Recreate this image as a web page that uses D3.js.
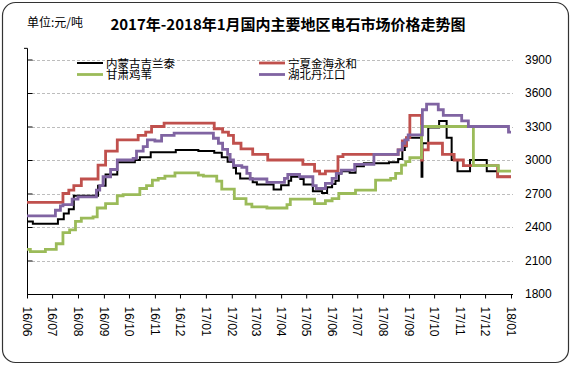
<!DOCTYPE html>
<html><head><meta charset="utf-8">
<script src="https://cdn.jsdelivr.net/npm/d3@7"></script>
<style>body{margin:0;background:#fff}svg{display:block}</style>
</head><body>
<script>
const title = "2017年-2018年1月国内主要地区电石市场价格走势图";
const unitLabel = "单位:元/吨";
const seriesNames = ["内蒙古吉兰泰", "宁夏金海永和", "甘肃鸡苇", "湖北丹江口"];
const seriesColors = ["#000000", "#C0504D", "#9BBB59", "#8064A2"];
const xTickLabels = ["16/06","16/07","16/08","16/09","16/10","16/11","16/12","17/01","17/02","17/03","17/04","17/05","17/06","17/07","17/08","17/09","17/10","17/11","17/12","18/01"];
const xTickDates = ["2016-06-01","2016-07-01","2016-08-01","2016-09-01","2016-10-01","2016-11-01","2016-12-01","2017-01-01","2017-02-01","2017-03-01","2017-04-01","2017-05-01","2017-06-01","2017-07-01","2017-08-01","2017-09-01","2017-10-01","2017-11-01","2017-12-01","2018-01-01"];
const yTickValues = [1800, 2100, 2400, 2700, 3000, 3300, 3600, 3900];

// step data: [date the price starts, price]
const neimeng = [
["2016-06-01",2450],["2016-06-08",2430],["2016-07-08",2470],["2016-07-15",2520],["2016-07-21",2560],["2016-07-27",2680],
["2016-08-25",2770],["2016-09-03",2870],["2016-09-17",2980],["2016-10-08",3000],["2016-10-14",3025],["2016-10-27",3070],
["2016-11-26",3090],["2016-12-23",3080],["2017-01-11",3065],["2017-01-20",3025],["2017-01-27",2985],["2017-02-03",2930],
["2017-02-06",2880],["2017-02-11",2835],["2017-02-26",2800],["2017-03-03",2780],["2017-03-23",2735],["2017-04-01",2775],
["2017-04-10",2815],["2017-04-13",2850],["2017-04-24",2830],["2017-04-28",2780],["2017-05-09",2720],["2017-05-20",2705],
["2017-05-26",2755],["2017-06-01",2785],["2017-06-05",2815],["2017-06-09",2880],["2017-06-12",2900],["2017-06-22",2885],
["2017-06-29",2945],["2017-07-09",2970],["2017-08-08",2980],["2017-08-19",3010],["2017-08-24",3090],["2017-08-27",3120],
["2017-08-29",3200],["2017-09-16",2850],["2017-09-17",3150],["2017-09-24",3290],["2017-10-07",3350],["2017-10-16",3200],
["2017-10-22",3000],["2017-10-29",2900],["2017-11-13",3000],["2017-12-03",2900],["2017-12-16",2850],["2018-01-01",2850]];
const ningxia = [
["2016-06-01",2620],["2016-07-14",2700],["2016-07-21",2730],["2016-07-27",2770],["2016-08-05",2830],["2016-08-25",2955],
["2016-09-03",3080],["2016-09-17",3180],["2016-10-12",3220],["2016-10-21",3250],["2016-10-28",3300],["2016-11-12",3330],
["2017-01-11",3280],["2017-01-21",3250],["2017-01-28",3220],["2017-02-03",3150],["2017-02-12",3100],["2017-02-26",3050],
["2017-03-16",3000],["2017-04-27",2960],["2017-05-11",2900],["2017-05-17",2875],["2017-05-24",2900],["2017-06-08",3030],
["2017-06-14",3050],["2017-08-19",3090],["2017-08-24",3170],["2017-08-27",3130],["2017-08-29",3200],["2017-09-02",3400],
["2017-09-16",3000],["2017-09-17",3090],["2017-09-24",3150],["2017-10-11",3050],["2017-10-25",3000],["2017-11-05",2950],
["2017-12-16",2850],["2018-01-01",2850]];
const gansu = [
["2016-06-01",2200],["2016-06-05",2180],["2016-06-23",2200],["2016-07-06",2250],["2016-07-14",2350],["2016-07-22",2375],
["2016-07-29",2450],["2016-08-05",2480],["2016-08-19",2490],["2016-08-24",2570],["2016-09-03",2610],["2016-09-17",2680],
["2016-09-24",2690],["2016-10-14",2745],["2016-10-22",2770],["2016-10-29",2820],["2016-11-05",2835],["2016-11-13",2855],
["2016-11-25",2885],["2016-12-23",2865],["2016-12-29",2855],["2017-01-14",2810],["2017-01-20",2740],["2017-02-04",2655],
["2017-02-18",2605],["2017-02-25",2580],["2017-03-15",2570],["2017-04-08",2600],["2017-04-12",2650],["2017-05-11",2610],
["2017-05-24",2635],["2017-06-01",2655],["2017-06-09",2700],["2017-06-29",2730],["2017-07-23",2820],["2017-08-10",2835],
["2017-08-16",2880],["2017-08-23",2955],["2017-08-28",2985],["2017-09-02",3020],["2017-09-16",3300],["2017-11-17",2950],
["2017-12-17",2900],["2018-01-01",2900]];
const hubei = [
["2016-06-01",2500],["2016-07-05",2550],["2016-07-11",2590],["2016-07-14",2600],["2016-07-25",2650],["2016-08-01",2670],
["2016-08-23",2730],["2016-08-27",2770],["2016-08-31",2850],["2016-09-09",2915],["2016-09-17",3000],["2016-10-06",3015],
["2016-10-10",3080],["2016-10-18",3120],["2016-10-23",3180],["2016-11-01",3170],["2016-11-09",3220],["2016-11-24",3240],
["2017-01-10",3195],["2017-01-16",3150],["2017-01-21",3095],["2017-01-27",3050],["2017-01-30",3000],["2017-02-03",2950],
["2017-02-13",2935],["2017-02-19",2880],["2017-02-23",2830],["2017-03-15",2800],["2017-04-05",2835],["2017-04-09",2870],
["2017-04-23",2850],["2017-05-09",2770],["2017-05-13",2745],["2017-05-24",2790],["2017-06-01",2835],["2017-06-06",2880],
["2017-06-12",2910],["2017-06-28",2960],["2017-07-21",3050],["2017-08-19",3090],["2017-08-24",3150],["2017-08-27",3180],
["2017-08-31",3225],["2017-09-17",3450],["2017-09-22",3500],["2017-10-06",3450],["2017-10-12",3400],["2017-11-03",3350],
["2017-11-11",3300],["2017-12-29",3250],["2018-01-01",3250]];
const allSeries = [neimeng, ningxia, gansu, hubei];

const W = 572, H = 366;
const parse = d3.timeParse("%Y-%m-%d");
const svg = d3.select("body").append("svg").attr("width", W).attr("height", H);

// frame
svg.append("rect").attr("x", 2.5).attr("y", 2.5).attr("width", 566).attr("height", 360)
  .attr("rx", 13).attr("fill", "#fff").attr("stroke", "#333").attr("stroke-width", 1.2);

const x = d3.scaleTime().domain([parse("2016-06-01"), parse("2018-01-01")]).range([27, 511]);
const y = d3.scaleLinear().domain([1800, 3900]).range([294, 59.5]);

const cjk = "'Noto Sans CJK SC', 'Noto Sans', sans-serif";

// gridlines
svg.append("g").selectAll("line").data(yTickValues.filter(v => v > 1800)).join("line")
  .attr("x1", 32).attr("x2", 513).attr("y1", d => Math.round(y(d)) + 0.5).attr("y2", d => Math.round(y(d)) + 0.5)
  .attr("stroke", "#bdbdbd").attr("stroke-width", 1).attr("stroke-dasharray", "3,2");

// left axis (no labels, inward ticks)
const leftAxis = d3.axisRight(y).tickValues(yTickValues).tickSize(5).tickFormat("");
const gl = svg.append("g").attr("transform", "translate(27.5,0)").call(leftAxis);
gl.select(".domain").remove();
gl.selectAll("line").attr("stroke", "#000");
svg.append("line").attr("x1", 27.5).attr("x2", 27.5).attr("y1", y(4000)).attr("y2", 294.5).attr("stroke", "#000");
svg.append("line").attr("x1", 24).attr("x2", 27.5).attr("y1", y(4000)).attr("y2", y(4000)).attr("stroke", "#000");

// right labels
const rightAxis = d3.axisRight(y).tickValues(yTickValues).tickSize(0).tickPadding(0).tickFormat(d3.format("d"));
const gr = svg.append("g").attr("transform", "translate(525,0)").call(rightAxis);
gr.select(".domain").remove();
gr.selectAll("text").attr("font-family", "'Liberation Sans', Arial, sans-serif").attr("font-size", 12).attr("fill", "#000");

// x axis
const xAxis = d3.axisBottom(x).tickValues(xTickDates.map(parse)).tickSize(4).tickFormat((d, i) => xTickLabels[i]);
const gx = svg.append("g").attr("transform", "translate(0,294.5)").call(xAxis);
gx.select(".domain").attr("d", "M27,0H513").attr("stroke", "#000");
gx.selectAll(".tick line").attr("stroke", "#000");
gx.selectAll(".tick text")
  .attr("font-family", "'Liberation Sans', Arial, sans-serif").attr("font-size", 12).attr("fill", "#000")
  .attr("text-anchor", "start").attr("transform", "rotate(90)")
  .attr("x", 12).attr("y", 0).attr("dy", "0.35em");

// lines
const line = d3.line().x(d => x(parse(d[0]))).y(d => y(d[1])).curve(d3.curveStepAfter);
const widths = [2, 2.8, 2.8, 2.8];
svg.append("g").selectAll("path").data(allSeries).join("path")
  .attr("d", line).attr("fill", "none")
  .attr("stroke", (d, i) => seriesColors[i]).attr("stroke-width", (d, i) => widths[i])
  .attr("stroke-linejoin", "miter");

// title & unit
svg.append("text").attr("x", 288).attr("y", 30).attr("text-anchor", "middle")
  .attr("font-family", cjk).attr("font-size", 15).attr("font-weight", "bold").attr("fill", "#000").text(title);
svg.append("text").attr("x", 27).attr("y", 27).attr("font-family", cjk).attr("font-size", 12).attr("fill", "#000").text(unitLabel);

// legend
const legendPos = [[77, 63], [259, 63], [77, 74.5], [259, 74.5]];
const lg = svg.append("g");
seriesNames.forEach((n, i) => {
  const [lx, ly] = legendPos[i];
  lg.append("line").attr("x1", lx).attr("x2", lx + 26).attr("y1", ly).attr("y2", ly)
    .attr("stroke", seriesColors[i]).attr("stroke-width", i === 0 ? 2 : 2.8);
  lg.append("text").attr("x", lx + 29).attr("y", ly + 0.5).attr("dy", "0.35em")
    .attr("font-family", cjk).attr("font-size", 11.5).attr("fill", "#000").text(n);
});
</script>
</body></html>
